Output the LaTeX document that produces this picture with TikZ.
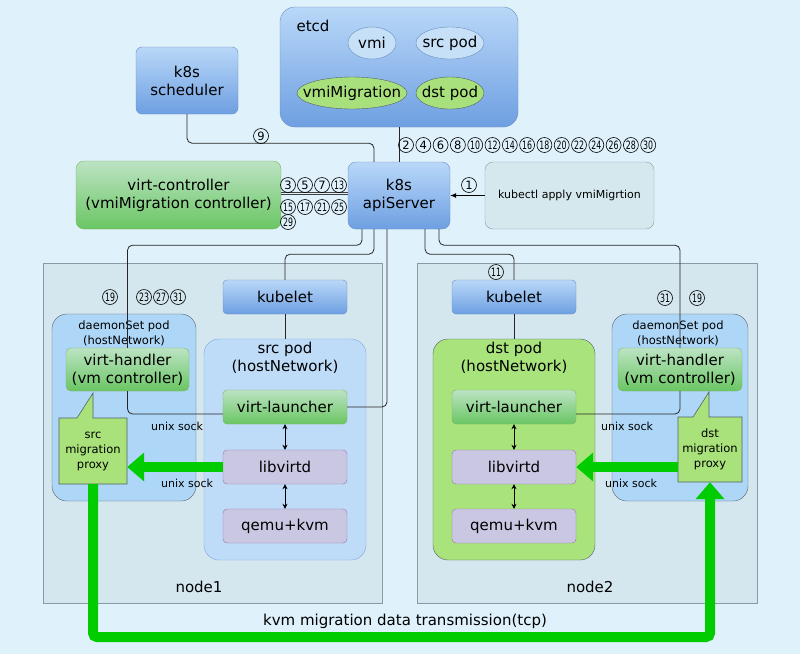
\documentclass[tikz,border=0pt]{standalone}
\usepackage{fontspec}
\usepackage{graphicx}
\setmainfont{DejaVu Sans}
\usetikzlibrary{arrows.meta,shapes.geometric}
\definecolor{bgc}{HTML}{DFF1FA}
\definecolor{nodebg}{HTML}{D4E7EE}
\definecolor{nodebd}{HTML}{8A9AA3}
\definecolor{blueTop}{HTML}{B9D8F8}
\definecolor{blueBot}{HTML}{6E9FE2}
\definecolor{blueBd}{HTML}{6C8EBF}
\definecolor{greenTop}{HTML}{BCE3C3}
\definecolor{greenBot}{HTML}{6AC663}
\definecolor{greenBd}{HTML}{82B366}
\definecolor{ellBlue}{HTML}{C6E0F8}
\definecolor{ellGreen}{HTML}{A8E07B}
\definecolor{dsFill}{HTML}{ADD6F7}
\definecolor{darkBd}{HTML}{56606A}
\definecolor{srcFill}{HTML}{BEDCF8}
\definecolor{srcBd}{HTML}{7EA6E0}
\definecolor{dstFill}{HTML}{A9E37C}
\definecolor{purpFill}{HTML}{CAC7E3}
\definecolor{purpBd}{HTML}{9673A6}
\definecolor{proxFill}{HTML}{A9E27A}
\definecolor{kubFill}{HTML}{D5E8EE}
\definecolor{gGreen}{HTML}{00CC00}
\newcommand{\tw}[1]{\scalebox{0.68}[1]{#1}}
\begin{document}
\begin{tikzpicture}[x=1pt,y=-1pt,
  every node/.style={font=\fontsize{15}{18}\selectfont, text=black},
  bluebox/.style={draw=blueBd, rounded corners=7pt, top color=blueTop, bottom color=blueBot, align=center, inner sep=0pt},
  greenbox/.style={draw=greenBd, rounded corners=7pt, top color=greenTop, bottom color=greenBot, align=center, inner sep=0pt},
  purplebox/.style={draw=purpBd, fill=purpFill, rounded corners=4pt, inner sep=0pt},
  ellblue/.style={ellipse, draw=blueBd, fill=ellBlue, inner xsep=-30pt, inner ysep=0pt},
  ellgreen/.style={ellipse, draw=darkBd, fill=ellGreen, inner xsep=-30pt, inner ysep=0pt},
  nodearea/.style={draw=nodebd, fill=nodebg, inner sep=0pt},
  podbox/.style={rounded corners=15pt, inner sep=0pt},
  cnum/.style={circle, draw, line width=0.6pt, inner sep=0pt, minimum size=15pt, font=\fontsize{11.5}{11.5}\selectfont},
  small/.style={font=\fontsize{11.5}{15}\selectfont, align=center},
  tiny/.style={font=\fontsize{11}{14}\selectfont},
  conn/.style={draw=black!85, line width=0.8pt, rounded corners=5pt},
  dbl/.style={draw=black, line width=0.8pt, {Stealth[length=5pt,width=5pt]}-{Stealth[length=5pt,width=5pt]}},
  garrow/.style={draw=gGreen, line width=10pt, -{Triangle[length=17pt,width=28pt]}},
  proxyshape/.style={draw=darkBd, fill=proxFill, line width=0.6pt},
]
\useasboundingbox (0,0) rectangle (800,654);
\fill[bgc] (0,0) rectangle (800,654);

% node areas
\node[nodearea, minimum width=339pt, minimum height=340pt] (node1) at (212.5,433) {};
\node[nodearea, minimum width=340pt, minimum height=340pt] (node2) at (587,433) {};
\node (node1lbl) at (199,587) {node1};
\node (node2lbl) at (590,587) {node2};

% etcd
\node[bluebox, rounded corners=15pt, minimum width=238pt, minimum height=120pt] (etcd) at (399,67) {};
\node (etcdlbl) at (313,26) {etcd};
\node[ellblue, minimum width=48pt, minimum height=32pt] (vmi) at (372,43) {vmi};
\node[ellblue, minimum width=68pt, minimum height=32pt] (srcpodE) at (450,43) {src pod};
\node[ellgreen, minimum width=110pt, minimum height=32pt] (vmimig) at (352,93) {vmiMigration};
\node[ellgreen, minimum width=68pt, minimum height=32pt] (dstpodE) at (450,93) {dst pod};

% control plane
\node[bluebox, rounded corners=6pt, minimum width=102pt, minimum height=67pt] (sched) at (187,80.5) {k8s\\scheduler};
\node[bluebox, rounded corners=8pt, minimum width=102pt, minimum height=67pt] (api) at (399,195.5) {k8s\\apiServer};
\node[draw=nodebd, fill=kubFill, rounded corners=8pt, minimum width=169pt, minimum height=67pt, inner sep=0pt, font=\fontsize{11}{14}\selectfont] (kubectl) at (569.5,195.5) {kubectl apply vmiMigrtion};
\node[greenbox, rounded corners=8pt, minimum width=205pt, minimum height=68pt] (vctl) at (178.5,195) {virt-controller\\(vmiMigration controller)};

% node1 contents
\node[podbox, draw=darkBd, fill=dsFill, minimum width=144pt, minimum height=187pt] (ds1) at (124,407.5) {};
\node[small] (ds1lbl) at (124,333) {daemonSet pod\\(hostNetwork)};
\node[podbox, draw=srcBd, fill=srcFill, minimum width=162pt, minimum height=221pt] (srcpod) at (285,449.5) {};
\node[align=center] (srcpodlbl) at (285,358) {src pod\\(hostNetwork)};
\node[bluebox, rounded corners=4pt, minimum width=124pt, minimum height=34pt] (kubelet1) at (285,297) {kubelet};
\node[greenbox, rounded corners=5pt, minimum width=123pt, minimum height=43pt] (handler1) at (127.5,369.5) {virt-handler\\(vm controller)};
\node[greenbox, rounded corners=4pt, minimum width=124pt, minimum height=34pt] (launcher1) at (285,407) {virt-launcher};
\node[purplebox, minimum width=124pt, minimum height=34pt] (libvirt1) at (285,467) {libvirtd};
\node[purplebox, minimum width=124pt, minimum height=34pt] (qemu1) at (285,526) {qemu+kvm};
\draw[proxyshape] (59,418) -- (77,418) -- (93,393) -- (93,418) -- (127,418) -- (127,484) -- (59,484) -- cycle;
\node[small, minimum width=68pt, minimum height=66pt, inner sep=0pt] (proxy1) at (93,451) {src\\migration\\proxy};
\node[tiny] (us1) at (177,426) {unix sock};
\node[tiny] (us2) at (187,483) {unix sock};

% node2 contents
\node[podbox, draw=darkBd, fill=dsFill, minimum width=136pt, minimum height=187pt] (ds2) at (680,407.5) {};
\node[small] (ds2lbl) at (678,333) {daemonSet pod\\(hostNetwork)};
\node[podbox, draw=darkBd, fill=dstFill, minimum width=162pt, minimum height=221pt] (dstpod) at (514,449.5) {};
\node[align=center] (dstpodlbl) at (514,358) {dst pod\\(hostNetwork)};
\node[bluebox, rounded corners=4pt, minimum width=124pt, minimum height=34pt] (kubelet2) at (514,297) {kubelet};
\node[greenbox, rounded corners=5pt, minimum width=124pt, minimum height=43pt] (handler2) at (680,369.5) {virt-handler\\(vm controller)};
\node[greenbox, rounded corners=4pt, minimum width=124pt, minimum height=34pt] (launcher2) at (514,407) {virt-launcher};
\node[purplebox, minimum width=124pt, minimum height=34pt] (libvirt2) at (514,467) {libvirtd};
\node[purplebox, minimum width=124pt, minimum height=34pt] (qemu2) at (514,526) {qemu+kvm};
\draw[proxyshape] (678,417) -- (693,417) -- (709,392) -- (709,417) -- (742,417) -- (742,482) -- (678,482) -- cycle;
\node[small, minimum width=64pt, minimum height=65pt, inner sep=0pt] (proxy2) at (710,449.5) {dst\\migration\\proxy};
\node[tiny] (us3) at (627,426) {unix sock};
\node[tiny] (us4) at (631,483) {unix sock};

% connectors
\draw[-{Latex[length=6pt,width=5pt]}, line width=0.8pt] (kubectl) -- (api);
\draw[conn] (etcd) -- (api);
\draw[conn] (sched.south) -- ++(0,29) -| ([xshift=-25pt]api.north);
\draw[line width=0.7pt, draw=black!75] ([yshift=2.7pt]vctl.east) -- ([yshift=2.7pt]vctl.east -| api.west);
\draw[line width=0.7pt, draw=black!75] ([yshift=0.7pt]vctl.east) -- ([yshift=0.7pt]vctl.east -| api.west);
\draw[conn] ([xshift=-37pt]api.south) -- ++(0,16) -| (handler1.north);
\draw[conn] (handler1.south) |- ([yshift=-7pt]launcher1.west);
\draw[conn] ([xshift=-25pt]api.south) -- ++(0,25) -| (kubelet1.north);
\draw[conn] (kubelet1) -- (srcpod.north);
\draw[conn] ([xshift=-12pt]api.south) |- (launcher1.east);
\draw[conn] ([xshift=26pt]api.south) -- ++(0,25) -| (kubelet2.north);
\draw[conn] (kubelet2) -- (dstpod.north);
\draw[conn] ([xshift=40pt]api.south) -- ++(0,16) -| (handler2.north);
\draw[conn] (handler2.south) |- ([yshift=-7pt]launcher2.east);
\draw[dbl] (launcher1) -- (libvirt1);
\draw[dbl] (libvirt1) -- (qemu1);
\draw[dbl] (launcher2) -- (libvirt2);
\draw[dbl] (libvirt2) -- (qemu2);

% green migration arrows
\draw[garrow] (libvirt1.west) -- (libvirt1.west -| proxy1.east);
\draw[garrow] (libvirt2.east -| proxy2.west) -- (libvirt2.east);
\draw[garrow, rounded corners=4pt] (proxy1.south) -- (93,637) -| (proxy2.south);
\node (kvmlbl) at (405,621) {kvm migration data transmission(tcp)};

% circled numbers
\foreach \n [count=\i from 0] in {2,4,6,8} \node[cnum] (ct\n) at (406+\i*17.3,145) {\n};
\foreach \n [count=\i from 4] in {10,12,...,30} \node[cnum] (ct\n) at (406+\i*17.3,145) {\tw{\n}};
\node[cnum] (c9) at (261,136) {9};
\node[cnum] (c1) at (469,185) {1};
\node[cnum] (c11) at (496,272) {\tw{11}};
\foreach \n [count=\i from 0] in {3,5,7} \node[cnum] (cu\n) at (288+\i*17,185) {\n};
\node[cnum] (cu13) at (339,185) {\tw{13}};
\foreach \n [count=\i from 0] in {15,17,21,25} \node[cnum] (cl\n) at (288+\i*17,207) {\tw{\n}};
\node[cnum] (c29) at (288,222) {\tw{29}};
\node[cnum] (cL19) at (110,297) {\tw{19}};
\foreach \n [count=\i from 0] in {23,27,31} \node[cnum] (cL\n) at (144+\i*17,297) {\tw{\n}};
\node[cnum] (cR31) at (665,298) {\tw{31}};
\node[cnum] (cR19) at (697,298) {\tw{19}};
\end{tikzpicture}
\end{document}
